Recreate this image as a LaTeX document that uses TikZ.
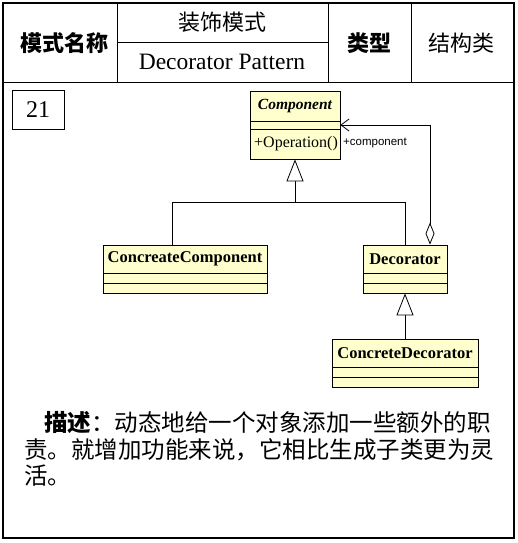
\documentclass[tikz,border=0pt]{standalone}
\usepackage{fontspec}
\setmainfont{Liberation Serif}
\setsansfont{Liberation Sans}
\newfontfamily\cjk{Noto Sans CJK SC}
\usetikzlibrary{arrows.meta}
\definecolor{clsfill}{RGB}{255,255,206}
\begin{document}
\begin{tikzpicture}[x=1pt,y=-1pt,
  cls/.style={draw, fill=clsfill, line width=0.8pt, inner sep=0pt},
  clsname/.style={font=\bfseries\fontsize{16.5}{17}\selectfont, inner sep=0pt},
  hdr/.style={font=\cjk\fontsize{22}{22}\selectfont, inner sep=0pt},
  hdrb/.style={font=\cjk\bfseries\fontsize{22}{22}\selectfont, inner sep=0pt},
  desc/.style={font=\cjk\fontsize{23.5}{24}\selectfont, inner sep=0pt, anchor=west},
  inherit/.style={line width=0.8pt, -{Triangle[open, fill=white, length=22pt, width=17pt, line width=0.8pt]}},
  rule/.style={line width=0.8pt}]
\useasboundingbox (0,0) rectangle (518,543);
% frame
\draw[line width=1.3pt] (3,3) rectangle (514,538);
\draw[line width=1pt] (3,82) -- (514,82);
\draw[line width=1pt] (117,3) -- (117,82);
\draw[line width=1pt] (328,3) -- (328,82);
\draw[line width=1pt] (411,3) -- (411,82);
\draw[line width=1pt] (117,43) -- (328,43);
% header texts
\node[hdrb] (h1) at (64,43) {模式名称};
\node[hdr] (h2) at (222,22) {装饰模式};
\node[font=\fontsize{23.5}{24}\selectfont, inner sep=0pt, anchor=base] (h3) at (222,70) {Decorator Pattern};
\node[hdrb] (h4) at (369,43) {类型};
\node[hdr] (h5) at (461,43) {结构类};
% number box
\node[draw, line width=1pt, minimum width=52pt, minimum height=39pt, inner sep=0pt,
      font=\fontsize{24}{24}\selectfont] (num) at (38,109.5) {21};
% classes
\node[cls, minimum width=90pt, minimum height=68pt] (comp) at (295,125) {};
\draw[rule] (250,121) -- (340,121);
\draw[rule] (250,129) -- (340,129);
\node[font=\bfseries\itshape\fontsize{15.5}{16}\selectfont, inner sep=0pt] (compn) at (295,106) {Component};
\node[font=\fontsize{16}{16}\selectfont, inner sep=0pt, anchor=west] (compo) at (254,144) {+Operation()};

\node[cls, minimum width=164pt, minimum height=48pt] (cc) at (185,269) {};
\draw[rule] (103,273) -- (267,273);
\draw[rule] (103,283) -- (267,283);
\node[clsname] (ccn) at (185,259) {ConcreateComponent};

\node[cls, minimum width=84pt, minimum height=48pt] (dec) at (405,269) {};
\draw[rule] (363,273) -- (447,273);
\draw[rule] (363,283) -- (447,283);
\node[clsname] (decn) at (405,259) {Decorator};

\node[cls, minimum width=146pt, minimum height=48pt] (cd) at (405,363) {};
\draw[rule] (332,367) -- (478,367);
\draw[rule] (332,377) -- (478,377);
\node[clsname] (cdn) at (405,353) {ConcreteDecorator};

% connectors
\coordinate (j1) at (172,202);
\coordinate (jm) at (295,202);
\coordinate (j2) at (405,202);
\draw[rule] (cc.north -| j1) -- (j1) -- (j2) -- (dec.north);
\draw[inherit] (jm) -- (comp.south);
\coordinate (ad) at (430,125);
\draw[line width=0.8pt, {Diamond[open, fill=white, length=22pt, width=9pt, line width=0.8pt]}-{Straight Barb[length=8pt, width=12pt, line width=0.8pt]}]
  (dec.north -| ad) -- (ad) -- (comp.east);
\node[font=\sffamily\fontsize{11.5}{12}\selectfont, inner sep=0pt, anchor=west] (lbl) at (343,143) {+component};
\draw[inherit] (cd.north) -- (dec.south);
% description
\node[desc] (d1) at (44,423) {{\bfseries 描述}：动态地给一个对象添加一些额外的职};
\node[desc] (d2) at (24,450) {责。就增加功能来说，它相比生成子类更为灵};
\node[desc] (d3) at (24,476) {活。};
\end{tikzpicture}
\end{document}
